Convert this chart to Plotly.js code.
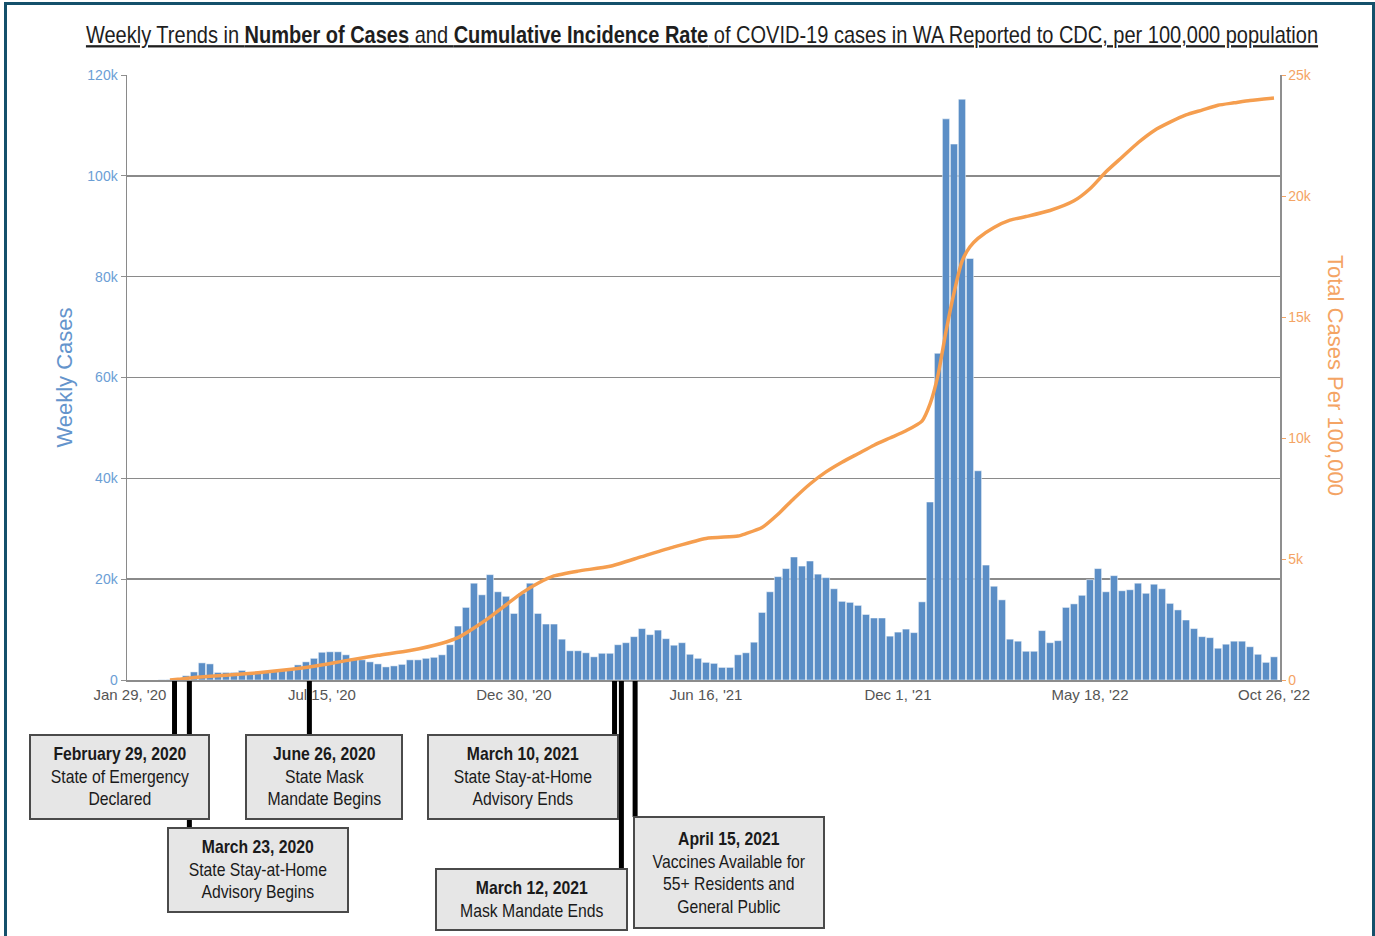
<!DOCTYPE html>
<html><head><meta charset="utf-8">
<script src="https://cdn.plot.ly/plotly-3.0.1.min.js"></script>
<style>
html,body{margin:0;padding:0;background:#fff;}
#frame{position:absolute;left:0;top:0;width:1375px;height:936px;overflow:hidden;background:#fff;}
#chart{position:absolute;left:0;top:0;width:1375px;height:936px;}
#border{position:absolute;left:4px;top:2px;width:1371px;height:950px;border:3px solid #14506b;box-sizing:border-box;pointer-events:none;}
</style></head><body>
<div id="frame"><div id="chart"></div><div id="border"></div></div>
<script>
// ---- DATA ----
const firstWeek = '2020-01-29';
// Weekly cases (thousands), one value per week starting Jan 29, 2020
const weeklyCasesK = [
  0, 0, 0, 0, 0.05, 0.1, 0.4, 0.85, 1.6, 3.4,
  3.2, 1.5, 1.5, 1.5, 1.9, 1.3, 1.5, 1.7, 1.8, 2.0,
  2.1, 3.0, 3.6, 4.3, 5.5, 5.6, 5.6, 5.0, 4.3, 4.0,
  3.6, 3.2, 2.6, 2.8, 3.1, 4.0, 4.0, 4.3, 4.5, 5.0,
  7.0, 10.7, 14.4, 19.2, 16.9, 20.9, 17.5, 16.6, 13.2, 17.2,
  19.2, 13.2, 11.1, 11.1, 8.1, 5.8, 5.8, 5.4, 4.6, 5.3,
  5.3, 7.0, 7.4, 8.6, 10.2, 9.0, 9.9, 8.2, 6.9, 7.4,
  5.1, 4.3, 3.5, 3.3, 2.5, 2.5, 5.0, 5.4, 7.5, 13.4,
  17.5, 20.5, 22.1, 24.4, 22.6, 23.6, 21.0, 20.3, 18.1, 15.6,
  15.4, 14.8, 13.0, 12.3, 12.3, 8.7, 9.5, 10.1, 9.4, 15.5,
  35.3, 64.8, 111.3, 106.3, 115.2, 83.6, 41.5, 22.8, 18.6, 15.9,
  8.1, 7.7, 5.7, 5.7, 9.8, 7.4, 7.8, 14.4, 15.1, 16.8,
  19.9, 22.1, 17.5, 20.7, 17.7, 17.9, 19.2, 17.2, 19.0, 18.1,
  15.2, 13.9, 11.9, 10.2, 8.6, 8.4, 6.3, 7.1, 7.7, 7.7,
  6.6, 5.1, 3.5, 4.6
];
// Cumulative incidence per 100,000 (thousands), read at selected weeks
const cumWeeks = [5, 6, 8, 12, 16, 19, 23, 27, 31, 35, 39, 41, 43, 45, 47, 49, 51, 53, 56, 60, 64, 68, 72, 76, 77, 79, 81, 83, 85, 87, 89, 91, 93, 95, 97, 99, 100, 101, 102, 103, 104, 105, 106, 108, 110, 112, 115, 118, 120, 122, 124, 126, 128, 130, 132, 134, 136, 138, 140, 143];
const cumPer100kK = [0, 0.03, 0.1, 0.2, 0.3, 0.4, 0.57, 0.8, 1.02, 1.22, 1.52, 1.75, 2.15, 2.6, 3.1, 3.6, 4.0, 4.3, 4.5, 4.7, 5.1, 5.5, 5.85, 5.95, 6.05, 6.3, 6.85, 7.5, 8.1, 8.6, 9.0, 9.35, 9.7, 10.0, 10.3, 10.7, 11.4, 12.6, 14.4, 16.0, 17.3, 17.9, 18.25, 18.7, 19.0, 19.15, 19.4, 19.8, 20.3, 21.0, 21.6, 22.2, 22.7, 23.05, 23.35, 23.55, 23.75, 23.85, 23.95, 24.05];
// X tick labels
const xTickWeeks = [0, 24, 48, 72, 96, 120, 143];
const xTickLabels = ["Jan 29, '20", "Jul 15, '20", "Dec 30, '20", "Jun 16, '21", "Dec 1, '21", "May 18, '22", "Oct 26, '22"];
const leftTicks = [0, 20000, 40000, 60000, 80000, 100000, 120000];
const leftTickLabels = ['0', '20k', '40k', '60k', '80k', '100k', '120k'];
const rightTicks = [0, 5000, 10000, 15000, 20000, 25000];
const rightTickLabels = ['0', '5k', '10k', '15k', '20k', '25k'];
// Policy events: label lines and where their marker line meets the axis (as drawn)
const eventTitles = ['February 29, 2020', 'March 23, 2020', 'June 26, 2020', 'March 10, 2021', 'March 12, 2021', 'April 15, 2021'];
const eventTexts = ['State of Emergency<br>Declared', 'State Stay-at-Home<br>Advisory Begins', 'State Mask<br>Mandate Begins', 'State Stay-at-Home<br>Advisory Ends', 'Mask Mandate Ends', 'Vaccines Available for<br>55+ Residents and<br>General Public'];
const eventLineDates = ['2020-03-08', '2020-03-21', '2020-07-04', '2021-03-28', '2021-04-03', '2021-04-15'];

// ---- HELPERS ----
function weekDate(i) {
  const d = new Date(firstWeek + 'T00:00:00Z');
  d.setUTCDate(d.getUTCDate() + 7 * i);
  return d.toISOString().slice(0, 10);
}
const W = 1375, H = 936;
const M = {l: 127, r: 95, t: 75, b: 256};
const PW = W - M.l - M.r, PH = H - M.t - M.b;
const xp = px => (px - M.l) / PW;
const yp = py => (H - M.b - py) / PH;

const barX = weeklyCasesK.map((_, i) => weekDate(i));
const barY = weeklyCasesK.map(v => v * 1000);
const lineX = cumWeeks.map(weekDate);
const lineY = cumPer100kK.map(v => v * 1000);

const sans = '"Liberation Sans", Arial, sans-serif';

const traces = [
  {type: 'bar', x: barX, y: barY, marker: {color: '#5b8ec6', line: {color: '#ffffff', width: 0.5}}, hoverinfo: 'x+y', name: 'Weekly Cases'},
  {type: 'scatter', mode: 'lines', x: lineX, y: lineY, yaxis: 'y2', line: {color: '#f59e4f', width: 3.5, shape: 'spline', smoothing: 0.6}, name: 'Total per 100k'}
];

// box geometry in page pixels [x0, y0, x1, y1]
const boxes = [[30, 735, 209, 819], [168, 828, 348, 912], [246, 735, 402, 819], [428, 735, 618, 819], [436, 869, 627, 930], [634, 817, 824, 928]];

const shapes = [];
const annotations = [];
eventLineDates.forEach((d, k) => {
  shapes.push({type: 'line', xref: 'x', yref: 'paper', x0: d, x1: d, y0: yp(681), y1: yp(boxes[k][1]), line: {color: '#000', width: 5}, layer: 'above'});
});
boxes.forEach((b, k) => {
  shapes.push({type: 'rect', xref: 'paper', yref: 'paper', x0: xp(b[0]), x1: xp(b[2]), y0: yp(b[1]), y1: yp(b[3]), fillcolor: '#e6e6e6', line: {color: '#4a4a4a', width: 2}, layer: 'above'});
  annotations.push({xref: 'paper', yref: 'paper', x: xp((b[0] + b[2]) / 2), y: yp((b[1] + b[3]) / 2), xanchor: 'center', yanchor: 'middle', showarrow: false,
    text: '<b>' + eventTitles[k] + '</b><br>' + eventTexts[k], align: 'center', font: {family: sans, size: 17.5, color: '#1a1a1a'}});
});
annotations.push({xref: 'paper', yref: 'paper', x: xp(1336), y: yp(375), textangle: 90, showarrow: false, xanchor: 'center', yanchor: 'middle',
  text: 'Total Cases Per 100,000', font: {family: sans, size: 22, color: '#f4a464'}});

const layout = {
  width: W, height: H, margin: {l: M.l, r: M.r, t: M.t, b: M.b, pad: 0},
  paper_bgcolor: 'rgba(0,0,0,0)', plot_bgcolor: '#ffffff',
  showlegend: false, bargap: 0.1,
  title: {text: 'Weekly Trends in <b>Number of Cases</b> and <b>Cumulative Incidence Rate</b> of COVID-19 cases in WA Reported to CDC, per 100,000 population',
    font: {family: sans, size: 23, color: '#1e1e1e', lineposition: 'under'}, xref: 'paper', x: 0.5, xanchor: 'center', yref: 'container', y: 1 - 35 / H, yanchor: 'middle'},
  xaxis: {type: 'date', range: ['2020-01-26 10:00', '2022-10-31 06:00'], tickvals: xTickWeeks.map(weekDate), ticktext: xTickLabels,
    tickfont: {family: sans, size: 15, color: '#555'}, showgrid: false, zeroline: false, showline: true, linecolor: '#8c8c8c', linewidth: 1.5,
    ticks: ''},
  yaxis: {range: [0, 120000], tickvals: leftTicks, ticktext: leftTickLabels, tickfont: {family: sans, size: 14, color: '#6b9ed5'},
    showgrid: true, gridcolor: '#8a8a8a', gridwidth: 1.6, zeroline: false, showline: true, linecolor: '#8a8a8a', linewidth: 1.5,
    ticks: 'outside', ticklen: 5, tickcolor: '#8f8f8f',
    title: {text: 'Weekly Cases', font: {family: sans, size: 22, color: '#6494cc'}, standoff: 8}},
  yaxis2: {range: [0, 25000], overlaying: 'y', side: 'right', tickvals: rightTicks, ticktext: rightTickLabels,
    tickfont: {family: sans, size: 14, color: '#f4a464'}, showgrid: false, zeroline: false, showline: true, linecolor: '#8f8f8f', linewidth: 1.5,
    ticks: 'outside', ticklen: 4, tickcolor: '#f4a464'},
  shapes: shapes, annotations: annotations
};

function condense(el, scale, targetCx) {
  const bb = el.getBBox();
  const cx = bb.x + bb.width / 2;
  const tx = targetCx === undefined ? cx : targetCx;
  el.setAttribute('transform', 'translate(' + tx + ',0) scale(' + scale + ',1) translate(' + (-cx) + ',0)');
}

Plotly.newPlot('chart', traces, layout, {staticPlot: true, displayModeBar: false}).then(() => {
  const t = document.querySelector('.gtitle');
  if (t) {
    const bb = t.getBBox();
    condense(t, 1233 / bb.width, 702);
  }
  const annTexts = document.querySelectorAll('.annotation-text');
  annTexts.forEach((el, k) => { if (k < boxes.length) condense(el, 0.9); });
});
</script>
</body></html>
